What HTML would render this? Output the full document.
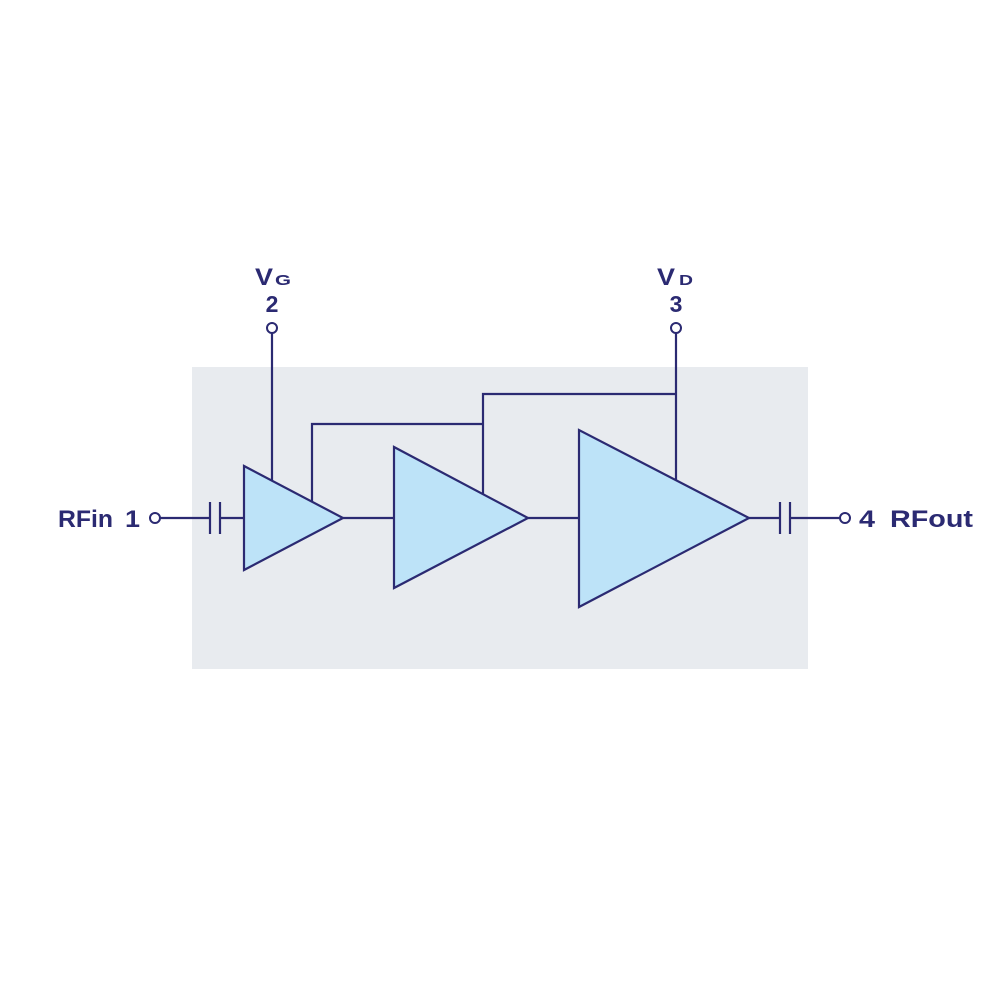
<!DOCTYPE html>
<html>
<head>
<meta charset="utf-8">
<style>
  html, body { margin: 0; padding: 0; background: #ffffff; }
  svg { display: block; }
  text { font-family: "Liberation Sans", "DejaVu Sans", sans-serif; fill: #2b2a72; font-weight: bold; }
</style>
</head>
<body>
<svg width="1000" height="1000" viewBox="0 0 1000 1000" xmlns="http://www.w3.org/2000/svg">
  <rect x="0" y="0" width="1000" height="1000" fill="#ffffff"/>
  <!-- package background -->
  <rect x="192" y="367" width="616" height="302" fill="#e8ebef"/>

  <g stroke="#2b2a72" stroke-width="2.2" fill="none" stroke-linecap="butt">
    <!-- input line & capacitor -->
    <line x1="160" y1="518" x2="210" y2="518"/>
    <line x1="210" y1="502" x2="210" y2="534"/>
    <line x1="220" y1="502" x2="220" y2="534"/>
    <line x1="220" y1="518" x2="244" y2="518"/>

    <!-- interstage lines -->
    <line x1="343" y1="518" x2="394" y2="518"/>
    <line x1="528" y1="518" x2="579" y2="518"/>

    <!-- output line & capacitor -->
    <line x1="749" y1="518" x2="780" y2="518"/>
    <line x1="780" y1="502" x2="780" y2="534"/>
    <line x1="790" y1="502" x2="790" y2="534"/>
    <line x1="790" y1="518" x2="840" y2="518"/>

    <!-- VG line -->
    <line x1="272" y1="333" x2="272" y2="481"/>

    <!-- bias / feedback lines -->
    <polyline points="312,502 312,424 483,424"/>
    <polyline points="483,494 483,394 676,394"/>
    <line x1="676" y1="333" x2="676" y2="480"/>
  </g>

  <!-- amplifier triangles -->
  <g stroke="#2b2a72" stroke-width="2.2" fill="#bde3f8" stroke-linejoin="miter">
    <polygon points="244,466 244,570 343,518"/>
    <polygon points="394,447 394,588 528,518"/>
    <polygon points="579,430 579,607 749,518"/>
  </g>

  <!-- terminals -->
  <g stroke="#2b2a72" stroke-width="2" fill="#ffffff">
    <circle cx="155" cy="518" r="5"/>
    <circle cx="845" cy="518" r="5"/>
    <circle cx="272" cy="328" r="5"/>
    <circle cx="676" cy="328" r="5"/>
  </g>

  <!-- labels -->
  <text x="58" y="527" font-size="24" textLength="55" lengthAdjust="spacingAndGlyphs">RFin</text>
  <text x="125" y="527" font-size="24" textLength="15" lengthAdjust="spacingAndGlyphs">1</text>
  <text x="859" y="527" font-size="24" textLength="16" lengthAdjust="spacingAndGlyphs">4</text>
  <text x="890" y="527" font-size="24" textLength="83" lengthAdjust="spacingAndGlyphs">RFout</text>

  <text x="255" y="285" font-size="24" textLength="18" lengthAdjust="spacingAndGlyphs">V</text>
  <text x="275" y="285" font-size="15" textLength="16" lengthAdjust="spacingAndGlyphs">G</text>
  <text x="272" y="312" font-size="23" text-anchor="middle">2</text>

  <text x="657" y="285" font-size="24" textLength="18" lengthAdjust="spacingAndGlyphs">V</text>
  <text x="679" y="285" font-size="15" textLength="14" lengthAdjust="spacingAndGlyphs">D</text>
  <text x="676" y="312" font-size="23" text-anchor="middle">3</text>
</svg>
</body>
</html>
